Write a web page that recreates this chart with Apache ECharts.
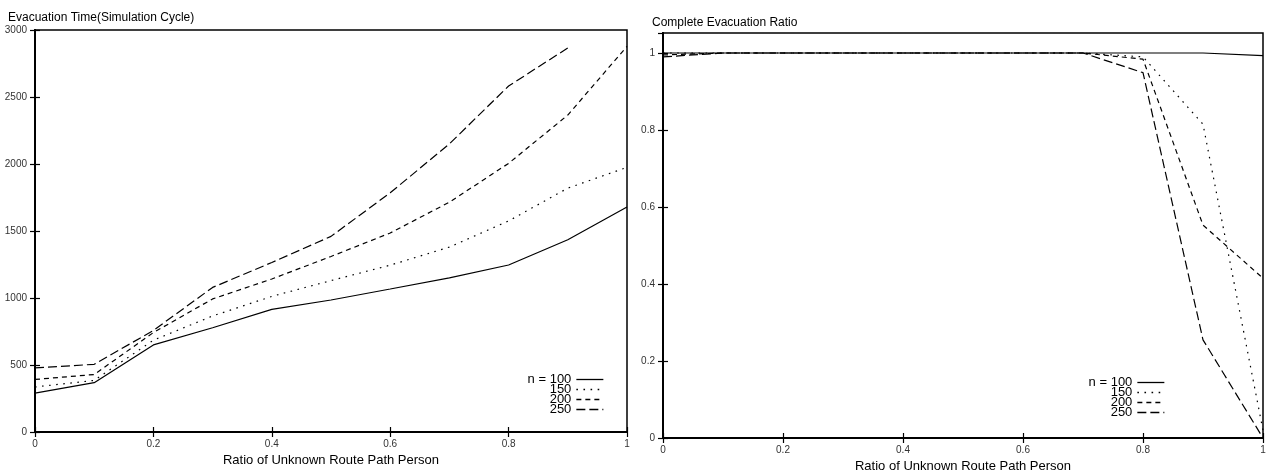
<!DOCTYPE html>
<html>
<head>
<meta charset="utf-8">
<script src="https://cdn.jsdelivr.net/npm/echarts@6/dist/echarts.min.js"></script>
<style>
html,body{margin:0;padding:0;background:#fff;}
#c{width:1266px;height:473px;}
</style>
</head>
<body>
<div id="c"></div>
<script>
// ---- data ----
var ratios = [0, 0.1, 0.2, 0.3, 0.4, 0.5, 0.6, 0.7, 0.8, 0.9, 1.0];
var seriesNames = ['n = 100', '150', '200', '250'];

// Evacuation time (simulation cycles)
var time100 = [290, 368, 650, 778, 915, 985, 1067, 1150, 1246, 1435, 1679];
var time150 = [336, 385, 685, 866, 1012, 1130, 1245, 1380, 1575, 1820, 1975];
var time200 = [392, 429, 742, 993, 1142, 1310, 1485, 1715, 2005, 2365, 2878];
var time250 = [478, 505, 758, 1079, 1265, 1460, 1785, 2150, 2582, 2866, null];

// Complete evacuation ratio
var ratio100 = [1, 1, 1, 1, 1, 1, 1, 1, 1, 1, 0.993];
var ratio150 = [1, 1, 1, 1, 1, 1, 1, 1, 0.99, 0.815, 0.02];
var ratio200 = [0.995, 1, 1, 1, 1, 1, 1, 1, 0.984, 0.553, 0.415];
var ratio250 = [0.99, 1, 1, 1, 1, 1, 1, 1, 0.949, 0.255, 0.0];

var leftTitle = 'Evacuation Time(Simulation Cycle)';
var rightTitle = 'Complete Evacuation Ratio';
var xName = 'Ratio of Unknown Route Path Person';

// ---- styles ----
var dashTypes = ['solid', [1.6, 5.5], [5, 4], [9, 4]];
function pairs(vals) {
  return ratios.map(function (r, i) { return [r, vals[i]]; }).filter(function (p) { return p[1] !== null; });
}
var tickStyle = { show: true, inside: true, length: 5, lineStyle: { color: '#000', width: 1.2 } };
var labelStyle = { color: '#333', fontSize: 10, fontFamily: 'Liberation Sans' };
var lineAxis = { show: true, lineStyle: { color: '#000', width: 2 } };

function xAxes(gi, nameGap) {
  return [{
    type: 'value', gridIndex: gi, min: 0, max: 1, interval: 0.2,
    axisLine: lineAxis, axisTick: tickStyle, splitLine: { show: false },
    axisLabel: Object.assign({ margin: 7 }, labelStyle),
    name: xName, nameLocation: 'middle', nameGap: nameGap,
    nameTextStyle: { color: '#000', fontSize: 13, fontFamily: 'Liberation Sans' }
  }, {
    type: 'value', gridIndex: gi, position: 'top', min: 0, max: 1, interval: 0.2,
    axisLine: lineAxis, axisTick: tickStyle, axisLabel: { show: false }, splitLine: { show: false }
  }];
}
function yAxes(gi, max, interval) {
  return [{
    type: 'value', gridIndex: gi, min: 0, max: max, interval: interval,
    axisLine: lineAxis, axisTick: tickStyle, splitLine: { show: false },
    axisLabel: Object.assign({ margin: 8, showMaxLabel: max % interval === 0 ? true : false,
      formatter: function (v) { return Math.abs(v / interval - Math.round(v / interval)) < 1e-6 ? String(+v.toFixed(4)) : ''; } }, labelStyle)
  }, {
    type: 'value', gridIndex: gi, position: 'right', min: 0, max: max, interval: interval,
    axisLine: lineAxis, axisTick: tickStyle, axisLabel: { show: false }, splitLine: { show: false }
  }];
}

var leftVals = [time100, time150, time200, time250];
var rightVals = [ratio100, ratio150, ratio200, ratio250];
var series = [];
function addSeries(vals, axisIdx) {
  seriesNames.forEach(function (n, i) {
    series.push({
      name: n, type: 'line', xAxisIndex: axisIdx, yAxisIndex: axisIdx, data: pairs(vals[i]),
      symbol: 'none', silent: true, animation: false,
      itemStyle: { color: '#000' },
      lineStyle: { color: '#000', width: 1.2, type: dashTypes[i] }
    });
  });
}
addSeries(leftVals, 0);
addSeries(rightVals, 2);

var legendBase = {
  orient: 'vertical', align: 'right', padding: 0, itemGap: -3,
  itemWidth: 27, itemHeight: 8, selectedMode: false, data: seriesNames,
  itemStyle: { opacity: 0 },
  lineStyle: { width: 1.3 },
  textStyle: { color: '#000', fontSize: 13, fontFamily: 'Liberation Sans', width: 46, align: 'right', lineHeight: 10, height: 10, padding: 0 }
};

var chart = echarts.init(document.getElementById('c'));
chart.setOption({
  animation: false,
  backgroundColor: '#fff',
  title: [
    { text: leftTitle, left: 3, top: 7, textStyle: { color: '#000', fontSize: 12, fontWeight: 'normal', fontFamily: 'Liberation Sans' } },
    { text: rightTitle, left: 647, top: 12, textStyle: { color: '#000', fontSize: 12, fontWeight: 'normal', fontFamily: 'Liberation Sans' } }
  ],
  grid: [
    { left: 35, right: 639, top: 30, bottom: 41, show: true, borderColor: '#000', borderWidth: 1.5, outerBoundsMode: 'none', containLabel: false },
    { left: 663, right: 3, top: 33, bottom: 35, show: true, borderColor: '#000', borderWidth: 1.5, outerBoundsMode: 'none', containLabel: false }
  ],
  xAxis: xAxes(0, 20).concat(xAxes(1, 19)),
  yAxis: yAxes(0, 3000, 500).concat(yAxes(1, 1.052, 0.2)),
  legend: [
    Object.assign({}, legendBase, { right: 662, top: 373 }),
    Object.assign({}, legendBase, { right: 101, top: 376 })
  ],
  series: series
});
</script>
</body>
</html>
